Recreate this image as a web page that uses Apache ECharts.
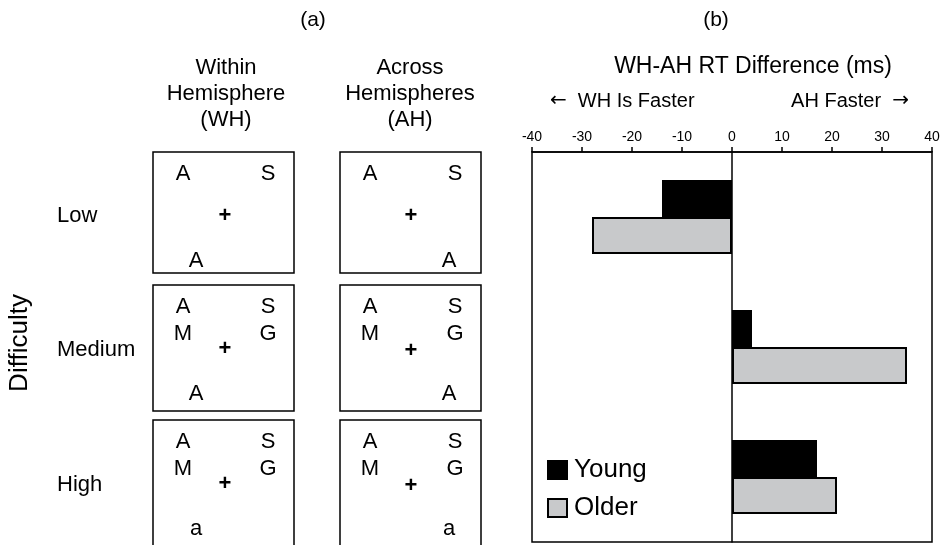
<!DOCTYPE html>
<html>
<head>
<meta charset="utf-8">
<script src="https://cdn.jsdelivr.net/npm/echarts@6/dist/echarts.min.js"></script>
<style>
  html, body { margin: 0; padding: 0; background: #fff; }
  #chart { width: 949px; height: 545px; }
</style>
</head>
<body>
<div id="chart"></div>
<script>
// Difficulty levels (rows) and WH-AH reaction-time differences in ms
const categories = ['Low', 'Medium', 'High'];
const youngDiff = [-14, 4, 17];
const olderDiff = [-28, 35, 21];
const seriesNames = ['Young', 'Older'];
const xMin = -40, xMax = 40, xStep = 10;

// Stimulus displays shown for each difficulty level
const headerWH = ['Within', 'Hemisphere', '(WH)'];
const headerAH = ['Across', 'Hemispheres', '(AH)'];
const topRow = [['A', 'S'], ['A', 'S'], ['A', 'S']];
const secondRow = [null, ['M', 'G'], ['M', 'G']];
const probe = ['A', 'A', 'a'];

const FONT = '"Liberation Sans", Arial, Helvetica, sans-serif';
const f = (size, weight) => (weight ? weight + ' ' : '') + size + 'px ' + FONT;

// Layout of the stimulus panel
const boxWH = { x: 153, w: 141 };
const boxAH = { x: 340, w: 141 };
const boxTops = [152, 285, 420];
const boxHeights = [121, 126, 140];

function txt(text, x, y, size, extra) {
  return {
    type: 'text',
    style: Object.assign({
      text: text, x: x, y: y, font: f(size),
      fill: '#000', textAlign: 'center', textVerticalAlign: 'middle'
    }, extra || {})
  };
}

const graphics = [];
// panel labels
graphics.push(txt('(a)', 313, 20, 21));
graphics.push(txt('(b)', 716, 20, 21));
// column headers
headerWH.forEach((s, i) => graphics.push(txt(s, 226, 68 + i * 26, 22)));
headerAH.forEach((s, i) => graphics.push(txt(s, 410, 68 + i * 26, 22)));
// row labels
const rowLabelY = [216, 350, 485];
categories.forEach((c, i) => graphics.push(txt(c, 57, rowLabelY[i], 22, { textAlign: 'left' })));
graphics.push({
  type: 'text', x: 20, y: 343, rotation: Math.PI / 2,
  style: { text: 'Difficulty', x: 0, y: 0, font: f(26), fill: '#000',
           textAlign: 'center', textVerticalAlign: 'middle' }
});

// stimulus boxes
[boxWH, boxAH].forEach((box, col) => {
  const leftX = box.x + 30;
  const rightX = box.x + 115;
  const plusX = box.x + (col === 0 ? 72 : 71);
  const probeX = col === 0 ? box.x + 43 : box.x + 109;
  categories.forEach((c, i) => {
    const top = boxTops[i];
    graphics.push({
      type: 'rect',
      shape: { x: box.x, y: top, width: box.w, height: boxHeights[i] },
      style: { fill: 'none', stroke: '#000', lineWidth: 1.5 }
    });
    graphics.push(txt(topRow[i][0], leftX, top + 22, 22));
    graphics.push(txt(topRow[i][1], rightX, top + 22, 22));
    if (secondRow[i]) {
      graphics.push(txt(secondRow[i][0], leftX, top + 49, 22));
      graphics.push(txt(secondRow[i][1], rightX, top + 49, 22));
    }
    const plusDy = secondRow[i] ? 64 + (col === 1 ? 2 : 0) : 64;
    graphics.push(txt('+', plusX, top + plusDy, 22, { font: f(22, 'bold') }));
    graphics.push(txt(probe[i], probeX, top + 109, 22));
  });
});

// panel (b) headings
graphics.push(txt('WH-AH RT Difference (ms)', 753, 67, 23));
graphics.push({
  type: 'text',
  style: {
    text: '{arr|\u2190}  WH Is Faster', x: 550, y: 101, font: f(20), fill: '#000',
    textAlign: 'left', textVerticalAlign: 'middle',
    rich: { arr: { fontFamily: '"DejaVu Sans", sans-serif', fontSize: 20, fill: '#000' } }
  }
});
graphics.push({
  type: 'text',
  style: {
    text: 'AH Faster  {arr|\u2192}', x: 909, y: 101, font: f(20), fill: '#000',
    textAlign: 'right', textVerticalAlign: 'middle',
    rich: { arr: { fontFamily: '"DejaVu Sans", sans-serif', fontSize: 20, fill: '#000' } }
  }
});

const chart = echarts.init(document.getElementById('chart'), null, { renderer: 'canvas' });
chart.setOption({
  animation: false,
  backgroundColor: '#fff',
  grid: {
    left: 532, right: 17, top: 152, bottom: 3,
    show: true, borderColor: '#000', borderWidth: 1.5, backgroundColor: 'transparent'
  },
  xAxis: {
    type: 'value', position: 'top', min: xMin, max: xMax, interval: xStep,
    axisLine: { show: true, lineStyle: { color: '#000', width: 1.5 } },
    axisTick: { show: true, length: 5, lineStyle: { color: '#000', width: 1.5 } },
    axisLabel: { color: '#000', fontSize: 14, fontFamily: FONT, margin: 8 },
    splitLine: { show: false }
  },
  yAxis: {
    type: 'category', data: categories, inverse: true,
    axisLine: { show: true, onZero: true, lineStyle: { color: '#000', width: 1.5 } },
    axisTick: { show: false },
    axisLabel: { show: false },
    splitLine: { show: false }
  },
  legend: {
    orient: 'vertical', left: 542, top: 452,
    icon: 'rect', itemWidth: 19, itemHeight: 18, itemGap: 12,
    data: seriesNames,
    textStyle: { color: '#000', fontSize: 26, fontFamily: FONT, padding: [0, 0, 0, 2] }
  },
  series: [
    {
      name: seriesNames[0], type: 'bar', data: youngDiff, barWidth: 37, barGap: '0%',
      itemStyle: { color: '#000', borderColor: '#000', borderWidth: 1.5 }
    },
    {
      name: seriesNames[1], type: 'bar', data: olderDiff, barWidth: 37, barGap: '0%',
      itemStyle: { color: '#c8c9cb', borderColor: '#000', borderWidth: 2 }
    }
  ],
  graphic: graphics
});
</script>
</body>
</html>
